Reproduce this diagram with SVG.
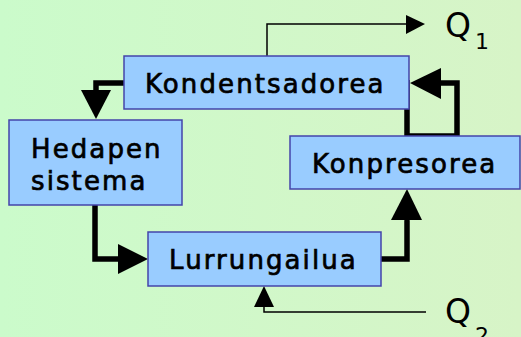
<svg xmlns="http://www.w3.org/2000/svg" width="521" height="337" viewBox="0 0 521 337">
<defs>
<linearGradient id="bg" x1="0" y1="0" x2="1" y2="0">
<stop offset="0" stop-color="#cbfbcb"/>
<stop offset="1" stop-color="#d7f4c7"/>
</linearGradient>
<style>
.box{fill:#99ccff;stroke:#4444aa;stroke-width:1.5}
.lbl{font-family:"DejaVu Sans",Verdana,sans-serif;font-size:26px;letter-spacing:2.1px;fill:#000;stroke:#000;stroke-width:0.7px}
.q{font-family:"DejaVu Sans",Verdana,sans-serif;font-size:33px;fill:#000}
.sub{font-family:"DejaVu Sans",Verdana,sans-serif;font-size:22px;fill:#000}
.thick{fill:none;stroke:#000;stroke-width:5.5;stroke-linecap:round;stroke-linejoin:miter}
.thin{fill:none;stroke:#000;stroke-width:1.5}
.head{fill:#000}
</style>
</defs>
<rect width="521" height="337" fill="url(#bg)"/>
<g id="connectors">
<path class="thin" d="M267 56 V24 H407"/>
<polygon class="head" points="406,15 425,24 406,34"/>
<path class="thin" d="M426 312 H264 V305"/>
<polygon class="head" points="254,307 264,286 274,307"/>
<path class="thick" d="M126 83 H96 V91"/>
<polygon class="head" points="81,90 111,90 96,119"/>
<path class="thick" d="M95 205 V259 H119"/>
<polygon class="head" points="118,244 148,259 118,274"/>
<path class="thick" d="M381 259 H407 V221"/>
<polygon class="head" points="391,220 407,189 422,220"/>
<path class="thick" style="stroke-linecap:butt" d="M438 83 H457 V136 H407 V80"/>
<polygon class="head" points="441,68 410,83 441,99"/>
</g>
<g id="kondentsadorea">
<rect class="box" x="124" y="56" width="285" height="53"/>
<text class="lbl" x="145" y="93">Kondentsadorea</text>
</g>
<g id="hedapen">
<rect class="box" x="9" y="120" width="173" height="85"/>
<text class="lbl" x="31" y="158">Hedapen</text>
<text class="lbl" x="31" y="190">sistema</text>
</g>
<g id="konpresorea">
<rect class="box" x="290" y="136" width="230" height="53"/>
<text class="lbl" x="312" y="173">Konpresorea</text>
</g>
<g id="lurrungailua">
<rect class="box" x="148" y="232" width="233" height="54"/>
<text class="lbl" x="169" y="269">Lurrungailua</text>
</g>
<g id="q1">
<text class="q" x="445" y="37">Q</text>
<text class="sub" x="475" y="49">1</text>
</g>
<g id="q2">
<text class="q" x="445" y="323">Q</text>
<text class="sub" x="475" y="343">2</text>
</g>
</svg>
